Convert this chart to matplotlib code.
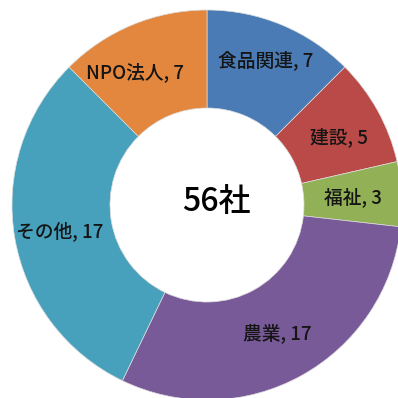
import numpy as np
import matplotlib.pyplot as plt

plt.rcParams['font.family'] = ['Noto Sans CJK JP', 'DejaVu Sans']

# 業種別の社数
categories = ['食品関連', '建設', '福祉', '農業', 'その他', 'NPO法人']
counts = [7, 5, 3, 17, 17, 7]
colors = ['#4a7bb5', '#b94a48', '#92b055', '#795a98', '#48a1bc', '#e3873e']
total_label = f'{sum(counts)}社'

fig = plt.figure(figsize=(3.98, 3.98), dpi=100)
ax = fig.add_axes([0, 0, 1, 1])

cx, cy = 207, 193
r_out, r_in = 195, 97

wedges, _ = ax.pie(counts, colors=colors, startangle=90, counterclock=False,
                   center=(cx, cy), radius=r_out,
                   wedgeprops=dict(width=r_out - r_in, edgecolor='#dcdcdc', linewidth=0.5))

ax.set_xlim(0, 398)
ax.set_ylim(0, 398)
ax.set_aspect('equal')
ax.axis('off')

# ラベルはリングの中央に配置
r_mid = (r_out + r_in) / 2
nudge = {'NPO法人': (-16, -2), '食品関連': (3, 10), '建設': (4, -3), 'その他': (-3, -2)}
for w, cat, n in zip(wedges, categories, counts):
    ang = np.deg2rad((w.theta1 + w.theta2) / 2)
    x = cx + r_mid * np.cos(ang)
    y = cy + r_mid * np.sin(ang)
    dx, dy = nudge.get(cat, (0, 0))
    ax.text(x + dx, y + dy, f'{cat}, {n}', ha='center', va='center',
            fontsize=13.5, fontweight='medium', color='#151515')

ax.text(cx + 9, cy + 3, total_label, ha='center', va='center', fontsize=23,
        fontweight='medium', color='black')

fig.savefig('out.png', dpi=100)
